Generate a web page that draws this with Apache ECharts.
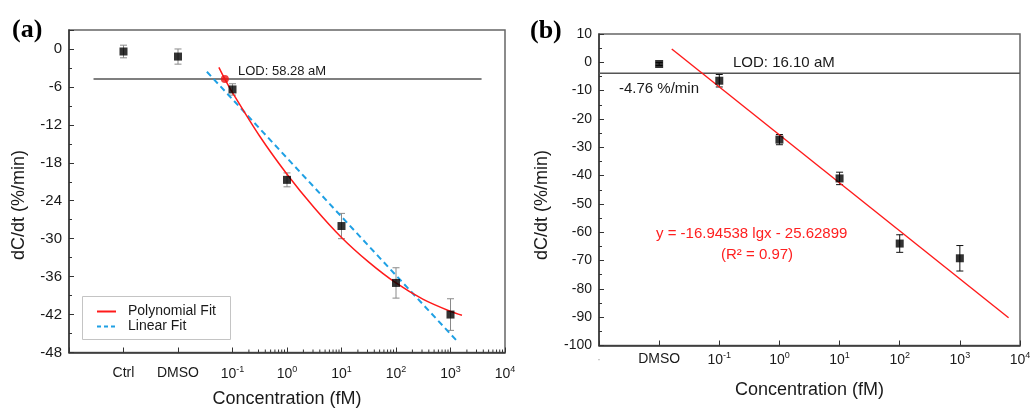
<!DOCTYPE html>
<html>
<head>
<meta charset="utf-8">
<script src="https://cdn.jsdelivr.net/npm/echarts@6/dist/echarts.min.js"></script>
<style>
html,body{margin:0;padding:0;background:#fff;}
#chart{width:1032px;height:411px;}
</style>
</head>
<body>
<div id="chart"></div>
<script>
// ---------- Panel (a) data ----------
// x positions: log10(concentration in fM); Ctrl and DMSO placed at -3 and -2
const xPosA = [-3, -2, -1, 0, 1, 2, 3];
const valA  = [-0.4, -1.2, -6.4, -20.7, -28.0, -37.0, -42.0];
const errA  = [1.0, 1.2, 0.9, 1.1, 2.0, 2.4, 2.5];
const polyFitA = [[-1.25,-2.9],[-1.14,-4.76],[-1,-6.9],[-0.5,-13.8],[0,-19.8],[0.5,-25.1],[1,-29.8],[1.5,-33.7],[2,-37.0],[2.5,-39.6],[3,-41.5],[3.21,-42.1]];
const linFitA = [[-1.47,-3.6],[3.11,-46.1]];
const lodA = -4.76;
const lodLineA = [[-3.55, lodA],[3.57, lodA]];
const lodPointA = [[-1.14, lodA]];
const xLabelsA = {'-3':'Ctrl','-2':'DMSO'};
const yTicksA = {min:-48, max:3, major:6, minor:3};
const legendA = ['Polynomial Fit', 'Linear Fit'];

// ---------- Panel (b) data ----------
const xPosB = [-2, -1, 0, 1, 2, 3];
const valB  = [-0.6, -6.5, -27.3, -41.0, -64.0, -69.2];
const errB  = [0.5, 2.2, 1.8, 2.2, 3.1, 4.5];
const linFitB = [[-1.79, 4.7],[3.81, -90.2]];
const lodB = -3.9;
const lodLineB = [[-3, lodB],[4, lodB]];
const xLabelsB = {'-3':'{d|·}','-2':'{t|DMSO}'};
const yTicksB = {min:-100, max:10, major:10, minor:5};

// minor log ticks for panel (a): decades 10^-1 .. 10^4
const minorA = [];
for (let n = -1; n <= 3; n++) for (let k = 2; k <= 9; k++) minorA.push([n + Math.log10(k), yTicksA.min]);

const FONT = "'Liberation Sans', Arial, Helvetica, sans-serif";
const TXT = '#1a1a1a';
const RED = '#ff1a1a';
const BLUE = '#1fa0e4';

const rich = {
  n: {fontSize:14, fontFamily:FONT, color:TXT, lineHeight:16, verticalAlign:'bottom'},
  s: {fontSize:9, fontFamily:FONT, color:TXT, lineHeight:10, verticalAlign:'top'},
  t: {fontSize:14, fontFamily:FONT, color:TXT, lineHeight:16},
  d: {fontSize:12, fontFamily:FONT, color:'#aaa', lineHeight:16}
};
function decLabel(v){ return '{n|10}{s|' + v + '}'; }
function fmtA(v){
  if (xLabelsA[String(v)] !== undefined) return '{t|' + xLabelsA[String(v)] + '}';
  if (v >= -1) return decLabel(v);
  return '';
}
function fmtB(v){
  if (xLabelsB[String(v)] !== undefined) return xLabelsB[String(v)];
  if (v >= -1) return decLabel(v);
  return '';
}

function errRender(color, capW){
  return function(params, api){
    const x = api.value(0), y = api.value(1), e = api.value(2);
    const t = api.coord([x, y + e]), b = api.coord([x, y - e]);
    const st = {stroke: color, lineWidth: 1};
    return {type:'group', children:[
      {type:'line', shape:{x1:t[0], y1:t[1], x2:b[0], y2:b[1]}, style:st},
      {type:'line', shape:{x1:t[0]-capW, y1:t[1], x2:t[0]+capW, y2:t[1]}, style:st},
      {type:'line', shape:{x1:b[0]-capW, y1:b[1], x2:b[0]+capW, y2:b[1]}, style:st}
    ]};
  };
}
function minorRender(params, api){
  const p = api.coord([api.value(0), api.value(1)]);
  return {type:'line', shape:{x1:p[0], y1:p[1], x2:p[0], y2:p[1]-3}, style:{stroke:'#333', lineWidth:1}};
}

function xAxisCommon(grid, min, max, fmt, margin){
  return {
    type:'value', gridIndex:grid, min:min, max:max, interval:1,
    axisLine:{show:true, onZero:false, lineStyle:{color:'#333', width:1.5}},
    axisTick:{show:true, inside:true, length:5, lineStyle:{color:'#333', width:1}},
    splitLine:{show:false},
    axisLabel:{formatter:fmt, margin:margin, rich:rich, showMinLabel:true, showMaxLabel:true, hideOverlap:false},
    name:'Concentration (fM)', nameLocation:'middle',
    nameTextStyle:{fontSize:18, fontFamily:FONT, color:TXT}
  };
}
function yAxisMajor(grid, t){
  return {
    type:'value', gridIndex:grid, min:t.min, max:t.max, interval:t.major,
    axisLine:{show:true, onZero:false, lineStyle:{color:'#333', width:1.5}},
    axisTick:{show:true, inside:true, length:5, lineStyle:{color:'#333', width:1}},
    splitLine:{show:false},
    axisLabel:{margin:7, fontSize:15, fontFamily:FONT, color:TXT,
      formatter:function(v){ return (Math.round(v) % t.major === 0) ? String(v) : ''; }}
  };
}
function yAxisMinor(grid, t){
  return {
    type:'value', gridIndex:grid, min:t.min, max:t.max, interval:t.minor, position:'left',
    axisLine:{show:false, onZero:false}, axisLabel:{show:false}, splitLine:{show:false},
    axisTick:{show:true, inside:true, length:3, lineStyle:{color:'#333', width:1}}
  };
}

const xa = xAxisCommon(0, -4, 4, fmtA, 13); xa.nameGap = 38;
const xb = xAxisCommon(1, -3, 4, fmtB, 6);  xb.nameGap = 36;
const ya = yAxisMajor(0, yTicksA);
const yb = yAxisMajor(1, yTicksB); yb.axisLabel.fontSize = 14;

const option = {
  backgroundColor:'#fff',
  animation:false,
  grid:[
    {left:69, top:30, width:436, height:322.5, show:true, borderColor:'#666', borderWidth:1.5, backgroundColor:'transparent', containLabel:false, outerBoundsMode:'none'},
    {left:599, top:34, width:421, height:311.5, show:true, borderColor:'#666', borderWidth:1.5, backgroundColor:'transparent', containLabel:false, outerBoundsMode:'none'}
  ],
  xAxis:[xa, xb],
  yAxis:[ya, yAxisMinor(0, yTicksA), yb, yAxisMinor(1, yTicksB)],
  series:[
    // ---- panel (a) ----
    {type:'custom', xAxisIndex:0, yAxisIndex:0, renderItem:minorRender, data:minorA, encode:{x:0,y:1}, silent:true, z:1},
    {type:'line', xAxisIndex:0, yAxisIndex:0, data:lodLineA, symbol:'none', lineStyle:{color:'#555', width:1.5}, silent:true, z:2},
    {type:'custom', xAxisIndex:0, yAxisIndex:0, renderItem:errRender('#8a8a8a', 3.5), encode:{x:0,y:1},
      data:xPosA.map((x,i)=>[x, valA[i], errA[i]]), silent:true, z:3},
    {type:'line', name:legendA[1], xAxisIndex:0, yAxisIndex:0, data:linFitA, symbol:'none',
      lineStyle:{color:BLUE, width:2, type:[6,4]}, z:4},
    {type:'line', name:legendA[0], xAxisIndex:0, yAxisIndex:0, data:polyFitA, symbol:'none', smooth:0.3,
      lineStyle:{color:RED, width:1.5}, z:5},
    {type:'scatter', xAxisIndex:0, yAxisIndex:0, data:xPosA.map((x,i)=>[x, valA[i]]), symbol:'rect', symbolSize:8,
      itemStyle:{color:'#000'}, z:6},
    {type:'scatter', xAxisIndex:0, yAxisIndex:0, data:lodPointA, symbol:'circle', symbolSize:8,
      itemStyle:{color:'#ee1111'}, z:7},
    // ---- panel (b) ----
    {type:'line', xAxisIndex:1, yAxisIndex:2, data:lodLineB, symbol:'none', lineStyle:{color:'#555', width:1.5}, silent:true, z:2},
    {type:'custom', xAxisIndex:1, yAxisIndex:2, renderItem:errRender('#111', 3.5), encode:{x:0,y:1},
      data:xPosB.map((x,i)=>[x, valB[i], errB[i]]), silent:true, z:3},
    {type:'line', xAxisIndex:1, yAxisIndex:2, data:linFitB, symbol:'none', lineStyle:{color:RED, width:1.4}, z:4},
    {type:'scatter', xAxisIndex:1, yAxisIndex:2, data:xPosB.map((x,i)=>[x, valB[i]]), symbol:'rect', symbolSize:8,
      itemStyle:{color:'#000'}, z:6}
  ],
  graphic:[
    {type:'text', x:12, y:30, style:{text:'(a)', font:"bold 26px 'Liberation Serif', 'Times New Roman', serif", fill:'#000', verticalAlign:'middle'}},
    {type:'text', x:530, y:31, style:{text:'(b)', font:"bold 26px 'Liberation Serif', 'Times New Roman', serif", fill:'#000', verticalAlign:'middle'}},
    {type:'text', x:19.5, y:205, rotation:Math.PI/2, style:{text:'dC/dt (%/min)', font:"18px " + FONT, fill:TXT, align:'center', verticalAlign:'middle'}},
    {type:'text', x:542, y:205, rotation:Math.PI/2, style:{text:'dC/dt (%/min)', font:"18px " + FONT, fill:TXT, align:'center', verticalAlign:'middle'}},
    {type:'text', x:238, y:71, style:{text:'LOD: 58.28 aM', font:"13px " + FONT, fill:TXT, verticalAlign:'middle'}},
    {type:'text', x:733, y:62.5, style:{text:'LOD: 16.10 aM', font:"15px " + FONT, fill:TXT, verticalAlign:'middle'}},
    {type:'text', x:619, y:88.5, style:{text:'-4.76 %/min', font:"15px " + FONT, fill:TXT, verticalAlign:'middle'}},
    {type:'text', x:656, y:234, style:{text:'y = -16.94538 lgx - 25.62899', font:"15px " + FONT, fill:'#ff2020', verticalAlign:'middle'}},
    {type:'text', x:721, y:255, style:{text:'(R² = 0.97)', font:"15px " + FONT, fill:'#ff2020', verticalAlign:'middle'}},
    // legend box for panel (a)
    {type:'group', z:100, children:[
      {type:'rect', shape:{x:82.5, y:296.5, width:148, height:43}, style:{fill:'#fff', stroke:'#c4c4c4', lineWidth:1}},
      {type:'line', shape:{x1:97, y1:311.5, x2:116, y2:311.5}, style:{stroke:RED, lineWidth:2}},
      {type:'text', x:128, y:311.5, style:{text:legendA[0], font:"14px " + FONT, fill:TXT, verticalAlign:'middle'}},
      {type:'line', shape:{x1:97, y1:326.5, x2:116, y2:326.5}, style:{stroke:BLUE, lineWidth:2, lineDash:[4,3]}},
      {type:'text', x:128, y:326.5, style:{text:legendA[1], font:"14px " + FONT, fill:TXT, verticalAlign:'middle'}}
    ]}
  ]
};

const chart = echarts.init(document.getElementById('chart'), null, {renderer:'canvas'});
chart.setOption(option);
</script>
</body>
</html>
